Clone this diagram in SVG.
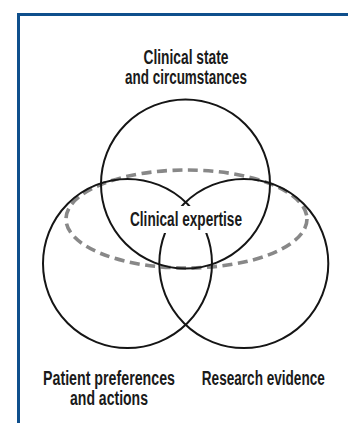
<svg xmlns="http://www.w3.org/2000/svg" width="348" height="423" viewBox="0 0 348 423">
  <style>
    .frame { fill: none; stroke: #0f4f8c; stroke-width: 3; }
    .set { fill: none; stroke: #151515; stroke-width: 2; }
    .overlap { fill: none; stroke: #888888; stroke-width: 3.6; stroke-dasharray: 10 5.5; }
    .label { font-family: "Liberation Sans", Arial, sans-serif; font-size: 21px; font-weight: bold; fill: #1a1a1a; text-anchor: middle; }
  </style>
  <rect width="348" height="423" fill="#ffffff"/>
  <path class="frame" d="M18.5 423 V14.5 H348"/>

  <g id="connectors">
    <ellipse class="overlap" cx="186.5" cy="219" rx="120.5" ry="49"/>
  </g>

  <!-- labels use a horizontally condensed face: scale(0.7,1) around each anchor -->
  <g id="clinical-state">
    <circle class="set" cx="185.5" cy="184" r="84.5"/>
    <text class="label" transform="translate(186 64) scale(0.7 1)"><tspan x="0" y="0" textLength="121.4" lengthAdjust="spacingAndGlyphs">Clinical state</tspan><tspan x="0" y="20" textLength="174.3" lengthAdjust="spacingAndGlyphs">and circumstances</tspan></text>
  </g>

  <g id="patient-preferences">
    <circle class="set" cx="127.5" cy="263.5" r="84.5"/>
    <text class="label" transform="translate(109 385) scale(0.7 1)"><tspan x="0" y="0" textLength="188.6" lengthAdjust="spacingAndGlyphs">Patient preferences</tspan><tspan x="0" y="20" textLength="111.4" lengthAdjust="spacingAndGlyphs">and actions</tspan></text>
  </g>

  <g id="research-evidence">
    <circle class="set" cx="243.8" cy="263.5" r="84.5"/>
    <text class="label" transform="translate(263.3 385) scale(0.7 1)" textLength="175.7" lengthAdjust="spacingAndGlyphs">Research evidence</text>
  </g>

  <g id="clinical-expertise">
    <!-- white knockout behind the central label -->
    <rect x="127" y="206" width="118" height="27" fill="#ffffff"/>
    <text class="label" transform="translate(186 226) scale(0.7 1)" textLength="160" lengthAdjust="spacingAndGlyphs">Clinical expertise</text>
  </g>
</svg>
